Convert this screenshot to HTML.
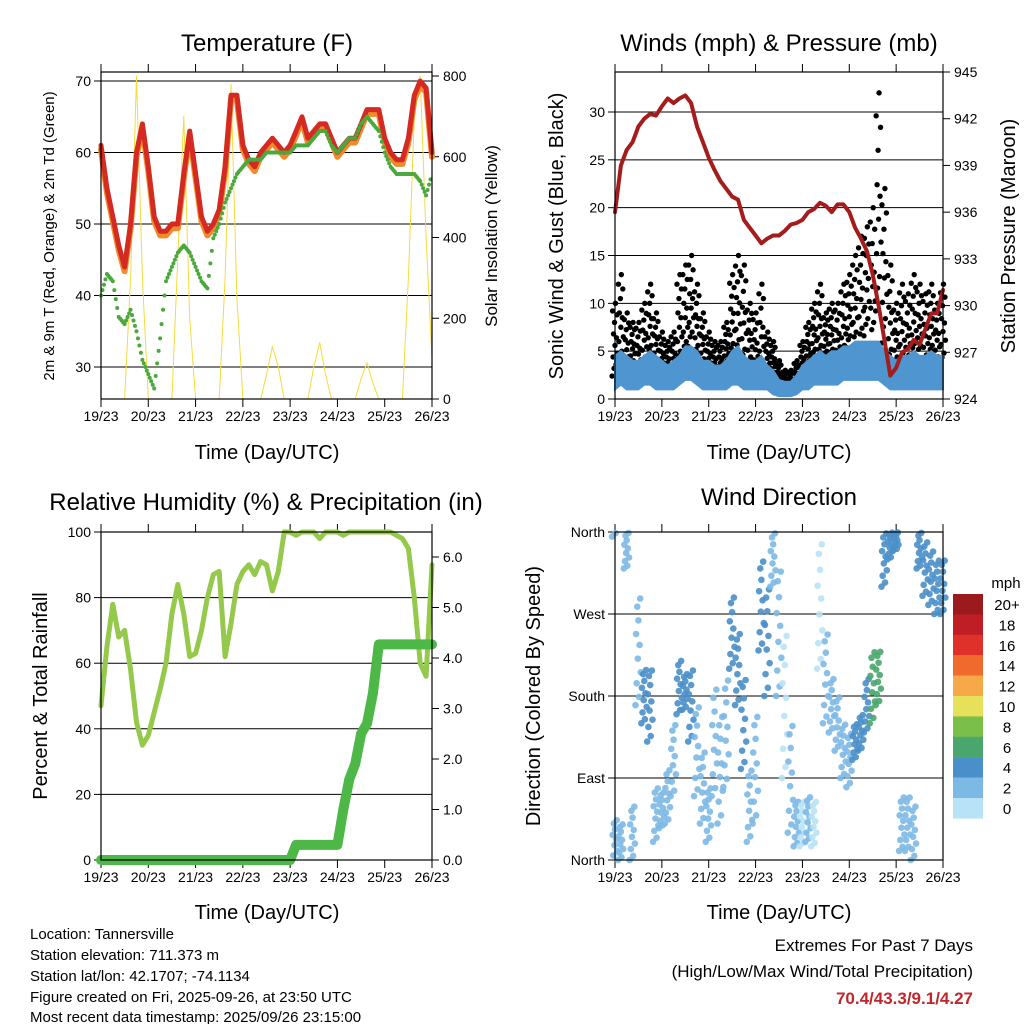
<!DOCTYPE html>
<html><head><meta charset="utf-8"><style>
html,body{margin:0;padding:0;background:#fff}
svg{display:block;font-family:"Liberation Sans",sans-serif}
</style></head><body>
<svg id="c" width="1024" height="1024" viewBox="0 0 1024 1024">
<text x="267" y="51" font-size="24" text-anchor="middle">Temperature (F)</text>
<text x="779" y="51" font-size="24" text-anchor="middle">Winds (mph) &amp; Pressure (mb)</text>
<text x="266" y="510" font-size="24" text-anchor="middle">Relative Humidity (%) &amp; Precipitation (in)</text>
<text x="779" y="505" font-size="24" text-anchor="middle">Wind Direction</text>
<text transform="translate(54,236) rotate(-90)" font-size="15" text-anchor="middle">2m &amp; 9m T (Red, Orange) &amp; 2m Td (Green)</text>
<text transform="translate(497,236) rotate(-90)" font-size="17" text-anchor="middle">Solar Insolation (Yellow)</text>
<text transform="translate(563,236) rotate(-90)" font-size="20" text-anchor="middle">Sonic Wind &amp; Gust (Blue, Black)</text>
<text transform="translate(1015,236) rotate(-90)" font-size="20" text-anchor="middle">Station Pressure (Maroon)</text>
<text transform="translate(47,696) rotate(-90)" font-size="20" text-anchor="middle">Percent &amp; Total Rainfall</text>
<text transform="translate(540,696) rotate(-90)" font-size="20" text-anchor="middle">Direction (Colored By Speed)</text>
<text x="267" y="459" font-size="20" text-anchor="middle">Time (Day/UTC)</text>
<text x="779" y="459" font-size="20" text-anchor="middle">Time (Day/UTC)</text>
<text x="267" y="919" font-size="20" text-anchor="middle">Time (Day/UTC)</text>
<text x="779" y="919" font-size="20" text-anchor="middle">Time (Day/UTC)</text>
<g font-size="15">
<text x="30" y="939">Location: Tannersville</text>
<text x="30" y="960">Station elevation: 711.373 m</text>
<text x="30" y="981">Station lat/lon: 42.1707; -74.1134</text>
<text x="30" y="1002">Figure created on Fri, 2025-09-26, at 23:50 UTC</text>
<text x="30" y="1022">Most recent data timestamp: 2025/09/26 23:15:00</text>
</g>
<g font-size="17" text-anchor="end">
<text x="973" y="951">Extremes For Past 7 Days</text>
<text x="973" y="977">(High/Low/Max Wind/Total Precipitation)</text>
<text x="973" y="1004" fill="#c0262a" font-weight="bold">70.4/43.3/9.1/4.27</text>
</g>
<text x="1006" y="588" font-size="15" text-anchor="middle">mph</text>
</svg>
<script>
const days=['19/23','20/23','21/23','22/23','23/23','24/23','25/23','26/23'];
const tempT=[61,55,51,47,44,50,60,64,58,51,49,49,50,50,57,63,57,51,49,50,52,58,68,68,61,59,58,60,61,62,61,60,61,63,65,62,63,64,64,62,60,61,62,62,64,66,66,66,62,60,59,59,62,68,70,69,60];
const tempTd=[40,43,42,37,36,38,35,31,29,27,34,42,44,46,47,46,44,42,41,48,50,53,55,57,58,59,59,59,60,60,60,60,60,61,61,61,62,63,63,61,60,61,62,62,64,65,64,63,60,58,57,57,57,57,56,54,57];
const solar=[0,0,0,0,0,300,800,300,0,0,0,0,0,350,700,200,0,0,0,0,0,300,780,250,0,0,0,0,60,130,80,0,0,0,0,0,80,140,60,0,0,0,0,0,50,90,40,0,0,0,0,0,300,700,800,400,100];
const pressure=[936,939,940,940.5,941.5,942,942.3,942.2,942.8,943.3,943,943.3,943.5,943,941.5,940.5,939.5,938.7,938,937.5,937,936.8,935.5,935,934.5,934,934.3,934.5,934.5,934.8,935.2,935.3,935.5,936,936.2,936.6,936.4,936,936.5,936.5,936,935,934.3,933.5,932,930,927.8,925.5,926,927,927.2,927.8,927.5,928.5,929.5,929.5,931];
const windMin=[1,1.5,1,1,1,1.5,1.5,1,1,1,1,1.5,2,2,1.5,1,1,1,1,1,1.5,1.5,1,1,1,1,1,0.5,0.3,0.3,0.3,0.5,1,1,1.5,1.5,1.5,1.5,1.5,2,2,2,2,2,2,2,1.5,1,1,1,1,1,1,1,1,1,1];
const windMax=[4.5,5,4.5,4,4,4.5,5,4.5,4,3.5,4,4.5,5.5,5.5,5,4,4,3.5,3.5,4,5,5.5,4.5,4,4,4.5,3.5,3,2,1.8,1.8,2.5,3.5,4,4.5,5,4.5,5,5,5.5,5.5,6,6,6,6,6,5,4.5,4,4.5,4.5,5,4.5,4.5,5,4.5,4.5];
const gustMin=[2,3,2,3,2,3,4,3,2,2,2,3,4,5,4,3,2,2,2,3,4,4,3,3,2,2,2,2,1,1,1,1,2,3,4,4,4,4,3,4,5,5,5,6,5,8,5,3,3,3,3,4,4,3,4,3,3];
const gustMax=[10,13,9,8,8,10,12,9,7,6,7,13,14,15,12,9,7,6,6,8,13,15,14,10,9,12,7,6,4,3,3,4,6,8,10,12,9,10,10,12,13,15,17,18,20,32,22,14,10,12,11,13,12,11,12,10,12];
const rh=[47,65,78,68,70,58,42,35,38,45,52,60,75,84,75,62,63,70,80,87,88,62,72,84,88,90,87,91,90,82,88,100,100,99,100,100,100,98,100,100,100,99,100,100,100,100,100,100,100,100,99,98,95,80,60,56,90];
const precip=[0,0,0,0,0,0,0,0,0,0,0,0,0,0,0,0,0,0,0,0,0,0,0,0,0,0,0,0,0,0,0,0,0,0.3,0.3,0.3,0.3,0.3,0.3,0.3,0.3,1.0,1.6,1.9,2.5,2.7,3.3,4.27,4.27,4.27,4.27,4.27,4.27,4.27,4.27,4.27,4.27];
const dirCenter=[20,20,340,30,230,180,170,50,55,70,110,190,185,170,120,80,50,130,100,140,250,210,150,60,100,280,240,330,250,170,90,40,40,45,40,280,200,170,150,120,110,130,140,170,190,200,330,345,350,40,40,30,340,320,310,300,300];
const dirSpread=[25,20,20,30,60,30,40,30,20,30,40,30,20,40,50,40,30,60,60,60,40,40,50,40,60,50,60,30,70,80,60,25,25,25,25,70,50,30,30,30,30,20,20,30,40,30,30,15,10,30,30,30,20,30,30,30,30];
const dirSpeed=[2,2,1,2,2,4,3,2,2,2,2,4,4,3,2,2,2,1,2,2,4,4,3,2,2,4,3,1,1,0,1,1,0,1,0,0,1,2,2,2,2,4,4,4,6,6,4,4,3,2,2,2,3,4,4,4,4];
const cbLabels=['20+','18','16','14','12','10','8','6','4','2','0'];
const cbColors=['#9a1a1e','#c01e26','#e0302a','#f06a2e','#f7a94a','#e6e05a','#7bbf4b','#4aa66c','#4a8fc9','#7db9e5','#b8e2f6'];

const NS='http://www.w3.org/2000/svg';
const svg=document.getElementById('c');
function mk(tag,a,parent){const e=document.createElementNS(NS,tag);for(const k in a)e.setAttribute(k,a[k]);(parent||svg).appendChild(e);return e;}
function lin(d0,d1,r0,r1){return v=>r0+(v-d0)*(r1-r0)/(d1-d0);}
const P1={L:101,R:432,T:72,B:399},P2={L:615,R:943,T:72,B:399},P3={L:101,R:432,T:532,B:860},P4={L:615,R:943,T:532,B:860};
function xi(p){return i=>p.L+i*(p.R-p.L)/56;}

function frame(p,name,leftTicks,leftLabels,ly,rightTicks,rightLabels,ry){
  const g=mk('g',{});
  
  
  leftTicks.forEach((v,k)=>{
    const y=ly(v);
    if(y>p.T+1&&y<p.B-1){const gl=mk('line',{x1:p.L,x2:p.R,y1:y,y2:y,stroke:'#000','stroke-width':1},g);
    
    }
    mk('line',{x1:p.L-7,x2:p.L,y1:y,y2:y,stroke:'#000','stroke-width':1},g);
    const t=mk('text',{x:p.L-10,y:y+5,'font-size':14,'text-anchor':'end'},g);
    t.textContent=leftLabels[k];
    
    
  });
  if(rightTicks)rightTicks.forEach((v,k)=>{
    const y=ry(v);
    mk('line',{x1:p.R,x2:p.R+7,y1:y,y2:y,stroke:'#000','stroke-width':1},g);
    const t=mk('text',{x:p.R+11,y:y+5,'font-size':14},g);
    t.textContent=rightLabels[k];
    
    
  });
  days.forEach((d,k)=>{
    const x=p.L+k*(p.R-p.L)/7;
    mk('line',{x1:x,x2:x,y1:p.B,y2:p.B+8,stroke:'#000'},g);
    mk('line',{x1:x,x2:x,y1:p.T-8,y2:p.T,stroke:'#000'},g);
    const t=mk('text',{x:x,y:p.B+22,'font-size':14,'text-anchor':'middle'},g);
    t.textContent=d;
    
    
  });
  return g;
}
function border(p,name){
  const r=mk('rect',{x:p.L,y:p.T,width:p.R-p.L,height:p.B-p.T,fill:'none',stroke:'#000','stroke-width':1.2});
  
  
}
function path(vals,xf,yf,attrs,name){
  const d=vals.map((v,i)=>(i?'L':'M')+xf(i).toFixed(1)+','+yf(v).toFixed(1)).join('');
  const e=mk('path',Object.assign({d:d,fill:'none','stroke-linejoin':'round','stroke-linecap':'round'},attrs));
  
  
  return e;
}

// Panel 1
const y1=lin(30,70,367,81), y1r=lin(0,800,399,76), x1=xi(P1);
frame(P1,'temperature',[30,40,50,60,70],['30','40','50','60','70'],y1,[0,200,400,600,800],['0','200','400','600','800'],y1r);
path(solar,x1,y1r,{stroke:'#f5dc3c','stroke-width':1},'solar-insolation-line');
path(tempT,x1,v=>y1(v-0.6),{stroke:'#f08a2a','stroke-width':6},'temperature-9m-line');
path(tempT,x1,y1,{stroke:'#d42a22','stroke-width':5},'temperature-2m-line');
tempTd.forEach((v,i)=>{ if(i<56){for(let s=0;s<4;s++){const f=s/4;const vv=v+(tempTd[i+1]-v)*f;
  const c=mk('circle',{cx:x1(i+f),cy:y1(vv),r:2,fill:'#4aa83c'});
  
  }}});
border(P1,'temperature');

// Panel 2
const y2=lin(0,30,399,112), y2r=lin(924,945,399,72), x2=xi(P2);
frame(P2,'winds',[0,5,10,15,20,25,30],['0','5','10','15','20','25','30'],y2,[924,927,930,933,936,939,942,945],['924','927','930','933','936','939','942','945'],y2r);
const gf=[0.05,0.9,0.3,0.6,0.15,0.75,0.45,1,0.2,0.55,0.85,0.35];
gustMin.forEach((lo,i)=>{ gf.forEach((f,k)=>{
  const c=mk('circle',{cx:x2(i)+(k/12-0.5)*5.86,cy:y2(lo+(gustMax[i]-lo)*f),r:2.7,fill:'#000'});
  
  
});});
{const up=windMax.map((v,i)=>x2(i).toFixed(1)+','+y2(v).toFixed(1));
 const dn=windMin.map((v,i)=>x2(i).toFixed(1)+','+y2(v).toFixed(1)).reverse();
 const b=mk('polygon',{points:up.concat(dn).join(' '),fill:'#4f95d0',stroke:'#4f95d0','stroke-width':2});
 
 }
path(pressure,x2,y2r,{stroke:'#a51c1c','stroke-width':4},'pressure-line');
border(P2,'winds');

// Panel 3
const y3=lin(0,100,860,532), y3r=lin(0,6,860,557), x3=xi(P3);
frame(P3,'humidity',[0,20,40,60,80,100],['0','20','40','60','80','100'],y3,[0,1,2,3,4,5,6],['0.0','1.0','2.0','3.0','4.0','5.0','6.0'],y3r);
path(rh,x3,y3,{stroke:'#95c94b','stroke-width':5},'relative-humidity-line');
path(precip,x3,y3r,{stroke:'#4db848','stroke-width':10},'precipitation-line');
border(P3,'humidity');

// Panel 4
const y4=lin(0,360,860,532), x4=xi(P4);
frame(P4,'direction',[0,90,180,270,360],['North','East','South','West','North'],y4,null,null,null);
const df=[-1,0.3,-0.6,0.8,-0.15,0.55,-0.85,0.1,0.95,-0.4];
dirCenter.forEach((c0,i)=>{ df.forEach((f,k)=>{
  let d=c0+f*dirSpread[i]; d=((d%360)+360)%360;
  const col=cbColors[10-Math.min(10,Math.round(dirSpeed[i]/2))];
  const c=mk('circle',{cx:x4(i)+(k/10-0.5)*5.86,cy:y4(d),r:3.3,fill:col,'fill-opacity':0.9});
  
  
});});
border(P4,'direction');

// colorbar
cbLabels.forEach((l,k)=>{
  const y=594+k*20.4;
  const r=mk('rect',{x:953,y:y,width:30,height:20.6,fill:cbColors[k]});
  
  
  const t=mk('text',{x:1007,y:y+16,'font-size':15,'text-anchor':'middle'});
  t.textContent=l;
  
  
});
</script>
</body></html>
